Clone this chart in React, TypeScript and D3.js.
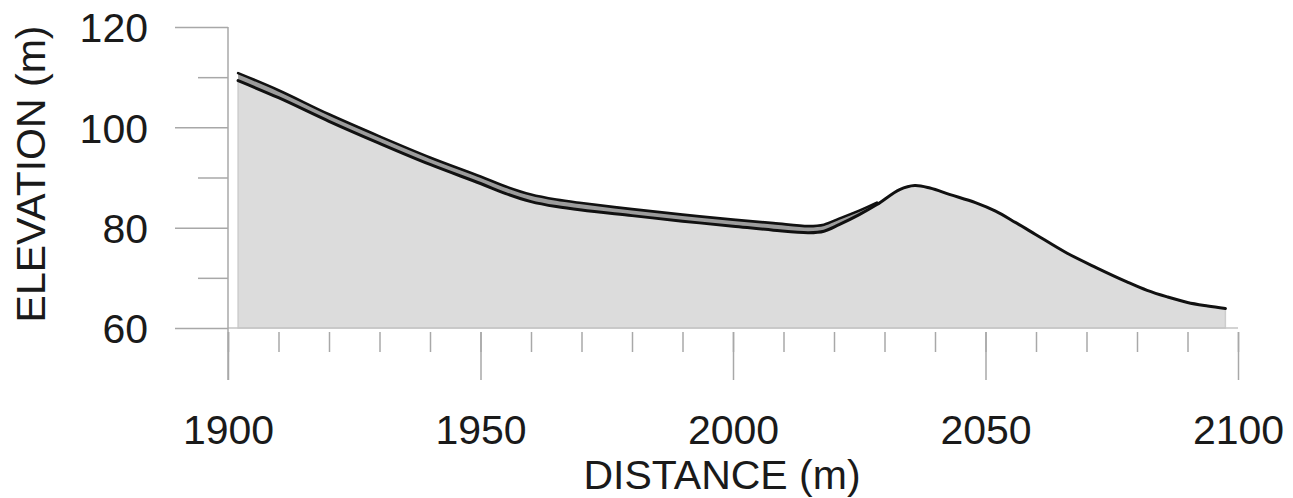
import React, { useRef, useEffect } from 'react';
import * as d3 from 'd3';

// profile sampled along the section (m)
const distance = [1902, 1910, 1920, 1930, 1940, 1950, 1955, 1960, 1965, 1970, 1980, 1990, 2000, 2008, 2015, 2018, 2021, 2025, 2028.5,
  2033, 2036, 2039, 2043, 2048, 2052, 2056, 2060, 2066, 2072, 2078, 2082, 2086, 2090, 2094, 2097.5];
// present ground surface
const lowerElevation = [109.3, 105.9, 101.2, 96.8, 92.6, 88.8, 86.8, 85.2, 84.2, 83.5, 82.4, 81.3, 80.3, 79.5, 79.0, 79.3, 80.6, 82.6, 84.6,
  87.6, 88.4, 87.9, 86.6, 85.0, 83.3, 81.0, 78.6, 75.0, 72.0, 69.2, 67.5, 66.2, 65.1, 64.4, 63.9];
// upper surface, only over the first part of the section
const upperElevation = [110.8, 107.4, 102.6, 98.2, 94.0, 90.2, 88.2, 86.6, 85.6, 84.9, 83.7, 82.6, 81.6, 80.9, 80.3, 80.6, 81.8, 83.4, 85.0];

const xMajor = [1900, 1950, 2000, 2050, 2100];
const xMinor = d3.range(1900, 2101, 10);
const yMajor = [60, 80, 100, 120];
const yMinor = [70, 90, 110];

export default function App({ width = 1293, height = 498 }) {
  const svgRef = useRef(null);

  useEffect(() => {
    const svg = d3.select(svgRef.current);
    svg.selectAll('*').remove();

    const font = 'Liberation Sans, Arial, sans-serif';
    const axisColor = '#a8a8a8';
    const curve = d3.curveCatmullRom.alpha(0.5);

    const x = d3.scaleLinear().domain([1900, 2100]).range([228, 1238]);
    const y = d3.scaleLinear().domain([60, 120]).range([328, 27]);

    const lower = distance.map((d, i) => ({ d, e: lowerElevation[i] }));
    const band = upperElevation.map((e, i) => ({ d: distance[i], top: e, bottom: lowerElevation[i] }));

    // ground fill
    svg.append('path')
      .datum(lower)
      .attr('fill', '#dcdcdc')
      .attr('stroke', '#cdcdcd')
      .attr('stroke-width', 1.5)
      .attr('d', d3.area().x(p => x(p.d)).y0(y(60)).y1(p => y(p.e)).curve(curve));

    // x axis baseline
    svg.append('line')
      .attr('x1', x(1900)).attr('x2', x(2100))
      .attr('y1', y(60)).attr('y2', y(60))
      .attr('stroke', '#c4c4c4').attr('stroke-width', 1.5);

    // x minor ticks
    svg.append('g')
      .attr('transform', `translate(0,${y(60) + 4})`)
      .attr('color', axisColor)
      .call(d3.axisBottom(x).tickValues(xMinor).tickSize(20).tickFormat(() => ''))
      .call(g => g.select('.domain').remove())
      .call(g => g.selectAll('.tick line').attr('stroke-width', 1.5));

    // x major ticks + labels
    svg.append('g')
      .attr('transform', `translate(0,${y(60) + 4})`)
      .attr('color', axisColor)
      .call(d3.axisBottom(x).tickValues(xMajor).tickSize(48).tickFormat(d3.format('d')))
      .call(g => g.select('.domain').remove())
      .call(g => g.selectAll('.tick line').attr('stroke-width', 1.5))
      .call(g => g.selectAll('.tick text')
        .attr('y', 112).attr('dy', 0)
        .attr('fill', '#1a1a1a')
        .attr('font-size', 41)
        .attr('font-family', font));

    // y axis line
    svg.append('line')
      .attr('x1', 228).attr('x2', 228)
      .attr('y1', y(120)).attr('y2', 380)
      .attr('stroke', axisColor).attr('stroke-width', 1.5);

    svg.append('g')
      .attr('transform', 'translate(228,0)')
      .attr('color', axisColor)
      .call(d3.axisLeft(y).tickValues(yMinor).tickSize(30).tickFormat(() => ''))
      .call(g => g.select('.domain').remove())
      .call(g => g.selectAll('.tick line').attr('stroke-width', 1.5));

    svg.append('g')
      .attr('transform', 'translate(228,0)')
      .attr('color', axisColor)
      .call(d3.axisLeft(y).tickValues(yMajor).tickSize(53).tickFormat(d3.format('d')))
      .call(g => g.select('.domain').remove())
      .call(g => g.selectAll('.tick line').attr('stroke-width', 1.5))
      .call(g => g.selectAll('.tick text')
        .attr('x', -80)
        .attr('dy', '0.36em')
        .attr('fill', '#1a1a1a')
        .attr('font-size', 41)
        .attr('font-family', font));

    // band between the two surfaces
    svg.append('path')
      .datum(band)
      .attr('fill', '#9c9c9c')
      .attr('d', d3.area().x(p => x(p.d)).y0(p => y(p.bottom)).y1(p => y(p.top)).curve(curve));

    const line = d3.line().x(p => x(p.d)).y(p => y(p.e)).curve(curve);

    svg.append('path')
      .datum(band.map(p => ({ d: p.d, e: p.top })))
      .attr('fill', 'none')
      .attr('stroke', '#111')
      .attr('stroke-width', 2.6)
      .attr('stroke-linecap', 'round')
      .attr('d', line);

    svg.append('path')
      .datum(lower)
      .attr('fill', 'none')
      .attr('stroke', '#111')
      .attr('stroke-width', 3)
      .attr('stroke-linecap', 'round')
      .attr('d', line);

    // axis titles
    svg.append('text')
      .attr('x', 722)
      .attr('y', 489)
      .attr('text-anchor', 'middle')
      .attr('fill', '#1a1a1a')
      .attr('font-size', 41)
      .attr('font-family', font)
      .text('DISTANCE (m)');

    svg.append('text')
      .attr('transform', 'translate(45,174) rotate(-90)')
      .attr('text-anchor', 'middle')
      .attr('fill', '#1a1a1a')
      .attr('font-size', 41)
      .attr('font-family', font)
      .text('ELEVATION (m)');
  }, []);

  return (
    <svg
      ref={svgRef}
      width={width}
      height={height}
      viewBox={`0 0 ${width} ${height}`}
      style={{ position: 'absolute', left: 0, top: 0, background: '#fff' }}
    />
  );
}
